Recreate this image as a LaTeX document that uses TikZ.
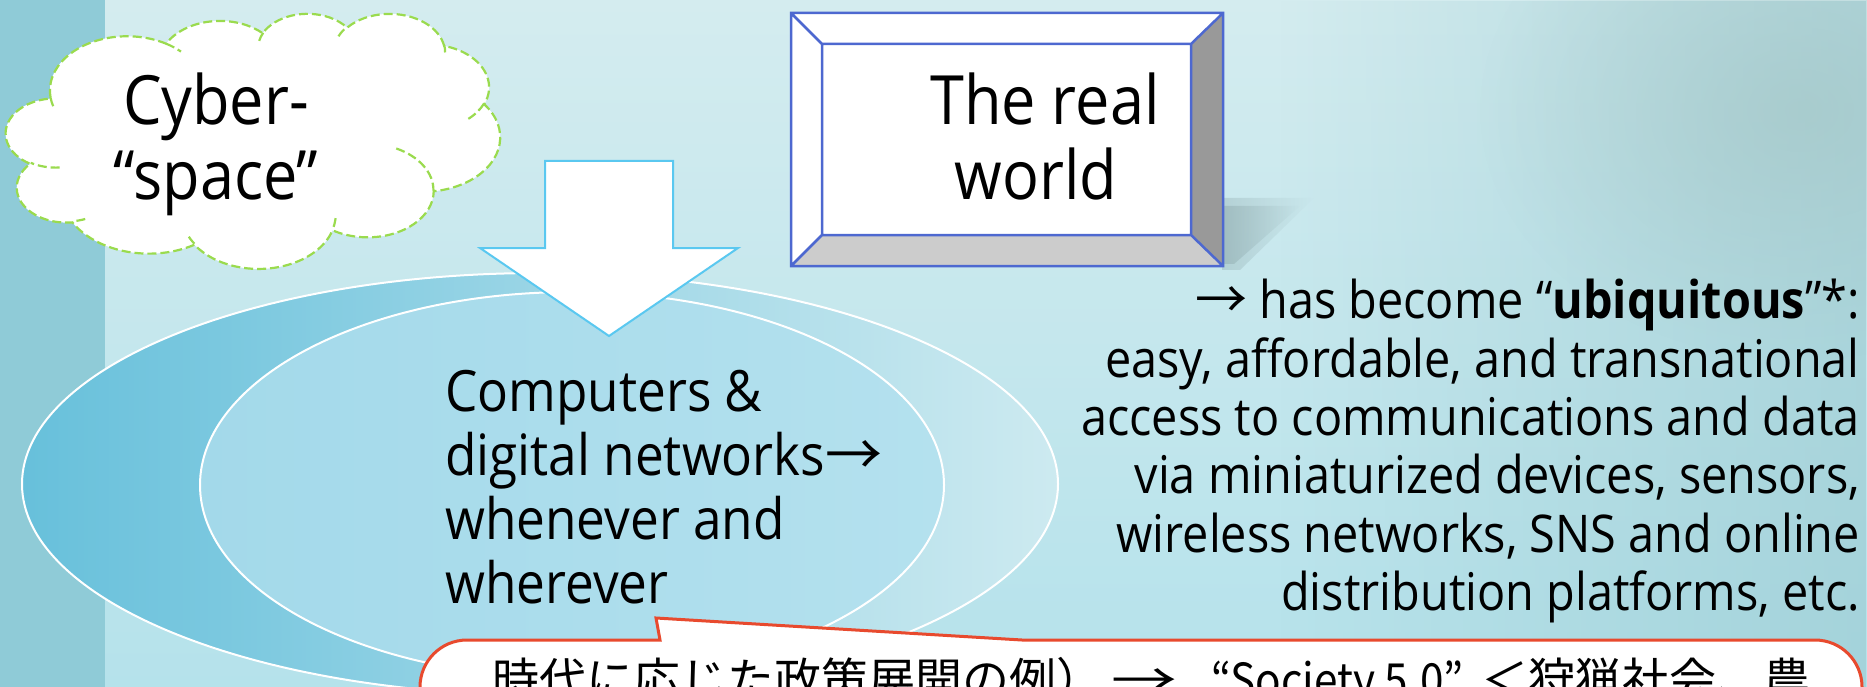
\documentclass[tikz,border=0pt]{standalone}
\usepackage{fontspec}
\setmainfont[FakeStretch=0.9]{Open Sans}
\newfontfamily\cjk{Noto Sans CJK JP}
\usetikzlibrary{fadings}
\definecolor{bgtop}{HTML}{D4ECEF}
\definecolor{bgbot}{HTML}{B5E2EB}
\definecolor{stripc}{HTML}{8FCBD7}
\definecolor{rightshade}{HTML}{98C9D0}
\definecolor{blobc}{HTML}{A3C4C4}
\definecolor{ellL}{HTML}{67C0DB}
\definecolor{ellR}{HTML}{CDEAF0}
\definecolor{innL}{HTML}{A3D9EA}
\definecolor{innR}{HTML}{B4E1EE}
\definecolor{cloudgreen}{HTML}{9ADB4E}
\definecolor{arrowblue}{HTML}{5AC8F0}
\definecolor{bevelblue}{HTML}{4D68D0}
\definecolor{bevelR}{HTML}{999999}
\definecolor{bevelB}{HTML}{CCCCCC}
\definecolor{calloutred}{HTML}{E84A2E}
\definecolor{shadowc}{HTML}{8AA5A8}
\tikzfading[name=fadeR, left color=transparent!100, right color=transparent!0]
\tikzfading[name=fadeL, left color=transparent!0, right color=transparent!100]
\tikzfading[name=blobfade, inner color=transparent!0, outer color=transparent!100]
\newcommand\ooang[4]{%
  \pgfmathparse{atan2((#1)*sin(#3),(#2)*cos(#3))}\xdef\ooS{\pgfmathresult}%
  \pgfmathparse{atan2((#1)*sin((#3)+(#4)),(#2)*cos((#3)+(#4)))}\xdef\ooE{\pgfmathresult}%
  \pgfmathparse{mod(\ooE-\ooS+720,360)}\xdef\ooD{\pgfmathresult}%
}
\tikzset{
  ooarc/.style n args={4}{insert path={\pgfextra{\ooang{#1}{#2}{#3}{#4}} arc[x radius=#1, y radius=#2, start angle=\ooS, delta angle=\ooD]}},
  cloudline/.style={draw=cloudgreen, line width=2.2pt, dash pattern=on 9pt off 4pt},
  arrowbox/.style={draw=arrowblue, line width=2pt, fill=white, line join=miter},
  bevelline/.style={draw=bevelblue, line width=2.5pt},
  calloutbox/.style={draw=calloutred, line width=3pt, fill=white, line join=miter},
  bigtxt/.style={inner sep=0pt, font=\fontsize{68}{75}\selectfont},
  lefttxt/.style={inner sep=0pt, font=\fontsize{57}{64}\selectfont, anchor=base west},
  righttxt/.style={inner sep=0pt, font=\fontsize{52}{58}\selectfont, anchor=base east},
  jptxt/.style={inner sep=0pt, font=\cjk\fontsize{47}{56}\selectfont, anchor=base west},
}
\begin{document}
\begin{tikzpicture}[x=1pt,y=-1pt]
\useasboundingbox (0,0) rectangle (1867,687);
\begin{scope}
\clip (0,0) rectangle (1867,687);
% background
\shade[top color=bgtop, bottom color=bgbot] (0,0) rectangle (1867,687);
\fill[rightshade, path fading=fadeR, fill opacity=0.6] (1280,0) rectangle (1867,687);
\fill[blobc, path fading=blobfade, fill opacity=0.6] (1800,110) ellipse[x radius=320, y radius=250];
\fill[stripc] (0,0) rectangle (105,687);
% ellipses
\shadedraw[left color=ellL, right color=ellR, draw=white, line width=2pt] (540,484) ellipse[x radius=518, y radius=211];
\shadedraw[left color=innL, right color=innR, draw=white, line width=2pt] (572,485) ellipse[x radius=372, y radius=193];
% cloud
\begin{scope}[shift={(6,13)}, xscale=494/432, yscale=255/432]
\path[fill=white, cloudline] (39.00,143.70)
  [ooarc={67.53}{91.90}{-190.4875}{123.7805}]
  [ooarc={53.33}{72.67}{-144.1024}{89.9452}]
  [ooarc={43.65}{59.45}{-145.8079}{99.7230}]
  [ooarc={48.57}{65.95}{-130.9861}{117.2417}]
  [ooarc={53.33}{72.73}{-78.7089}{109.0269}]
  [ooarc={67.75}{92.20}{-46.2673}{130.2690}]
  [ooarc={57.85}{78.67}{0.6250}{114.0333}]
  [ooarc={67.52}{92.15}{22.4516}{115.1726}]
  [ooarc={77.20}{105.43}{66.2426}{75.7110}]
  [ooarc={43.60}{59.18}{-274.9421}{146.7356}]
  [ooarc={43.45}{59.45}{-246.8285}{152.5189}] -- cycle;
\path[cloudline]
  (46.93,261.77) [ooarc={43.45}{59.45}{86.7420}{26.4295}]
  (69.28,348.99) [ooarc={43.60}{59.18}{73.6105}{11.4475}]
  (164.78,390.90) [ooarc={67.52}{92.15}{137.6242}{14.0811}]
  (288.27,347.51) [ooarc={67.52}{92.15}{6.4533}{15.9984}]
  (341.29,229.54) [ooarc={57.85}{78.67}{-70.2924}{70.9174}]
  (417.98,153.54) [ooarc={53.33}{72.73}{30.3180}{27.7515}]
  (383.24,54.26) [ooarc={48.57}{65.95}{-13.7443}{14.8589}]
  (290.78,39.52) [ooarc={48.57}{65.95}{-149.1815}{18.1954}]
  (221.41,47.20) [ooarc={43.65}{59.45}{-163.4943}{17.6864}]
  (140.00,51.92) [ooarc={67.53}{91.90}{-66.7070}{12.3194}]
  (41.27,157.89) [ooarc={67.53}{91.90}{157.66}{11.85}];
\end{scope}
\node[bigtxt, anchor=base] (cy1) at (216,125) {Cyber-};
\node[bigtxt, anchor=base] (cy2) at (216,200) {“space”};
% down arrow
\path[arrowbox] (545,161) -- (673,161) -- (673,248) -- (738,248) -- (609,336) -- (480,248) -- (545,248) -- cycle;
% shadow of box
\fill[shadowc, path fading=fadeL, fill opacity=0.35] (1222,198) -- (1314,198) -- (1240,270) -- (1222,270) -- cycle;
\fill[shadowc, path fading=fadeL, fill opacity=0.45] (1222,206) -- (1300,206) -- (1234,264) -- (1222,264) -- cycle;
% bevel box
\fill[white] (791,13) rectangle (1223,266);
\fill[bevelR] (1223,13) -- (1191,44) -- (1191,235) -- (1223,266) -- cycle;
\fill[bevelB] (791,266) -- (822,235) -- (1191,235) -- (1223,266) -- cycle;
\path[bevelline] (791,13) rectangle (1223,266) (822,44) rectangle (1191,235)
  (791,13) -- (822,44) (1223,13) -- (1191,44) (1223,266) -- (1191,235) (791,266) -- (822,235);
\node[bigtxt, anchor=base] (rw1) at (1045,125) {The real};
\node[bigtxt, anchor=base] (rw2) at (1036,200) {world};
% left text
\node[lefttxt] (l1) at (445,411) {Computers \&};
\node[lefttxt] (l2) at (445,475) {digital networks{\cjk →}};
\node[lefttxt] (l3) at (445,539) {whenever and};
\node[lefttxt] (l4) at (445,603) {wherever};
% right text
\node[righttxt] (r1) at (1860,318) {{\cjk →} has become “\textbf{ubiquitous}”*:};
\node[righttxt] (r2) at (1860,377) {easy, affordable, and transnational};
\node[righttxt] (r3) at (1860,435) {access to communications and data};
\node[righttxt] (r4) at (1860,493) {via miniaturized devices, sensors,};
\node[righttxt] (r5) at (1860,552) {wireless networks, SNS and online};
\node[righttxt] (r6) at (1860,610) {distribution platforms, etc.};
% callout
\path[calloutbox] (420,900) -- (420,687) arc[start angle=180, end angle=270, radius=47]
  -- (660,640) -- (656,618) -- (1022,640) -- (1815,640)
  arc[start angle=270, end angle=360, radius=47] -- (1862,900) -- cycle;
\node[jptxt] (jp) at (492,697) {時代に応じた政策展開の例）\hspace{8pt}\scalebox{1.4}[1]{→}\hspace{34pt}\scalebox{0.9}[1]{“Society 5.0”}\hspace{18pt}＜狩猟社会、農};
\end{scope}
\end{tikzpicture}
\end{document}
